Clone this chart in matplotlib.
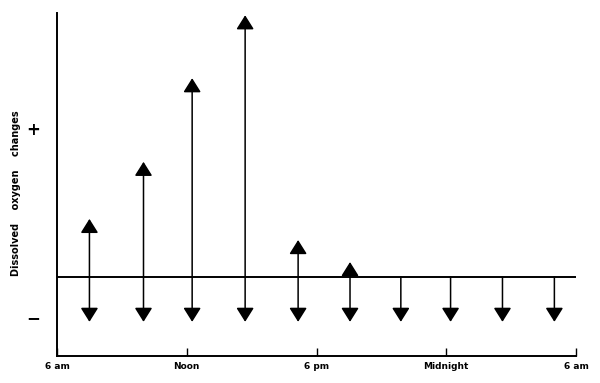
import matplotlib
matplotlib.use("Agg")
import matplotlib.pyplot as plt

# sample times (hours since midnight, 30 = 6 am next day)
times = [7.5, 10.0, 12.25, 14.7, 17.15, 19.55, 21.9, 24.2, 26.6, 29.0]
# oxygen produced (up arrows), relative units
gains = [1.29, 2.56, 4.42, 5.82, 0.82, 0.33, 0, 0, 0, 0]
# oxygen consumed (down arrows)
losses = [-1.0] * 10

tick_hours = [6, 12, 18, 24, 30]
tick_labels = ["6 am", "Noon", "6 pm", "Midnight", "6 am"]

fig = plt.figure(figsize=(6.0, 3.83), dpi=100)
ax = fig.add_axes([0.095, 0.0705, 0.865, 0.8955])

ax.set_xlim(6, 30)
ax.set_ylim(-1.76, 5.87)

ax.axhline(0, color="black", lw=1.4)

head = "-|>,head_length=0.86,head_width=0.54"
for t, g, l in zip(times, gains, losses):
    if g > 0:
        ax.annotate("", xy=(t, g), xytext=(t, 0),
                    arrowprops=dict(arrowstyle=head, mutation_scale=10,
                                    lw=1.1, color="black", shrinkA=0, shrinkB=0))
    ax.annotate("", xy=(t, l), xytext=(t, 0),
                arrowprops=dict(arrowstyle=head, mutation_scale=10,
                                lw=1.1, color="black", shrinkA=0, shrinkB=0))

for side in ("top", "right"):
    ax.spines[side].set_visible(False)
for side in ("left", "bottom"):
    ax.spines[side].set_linewidth(1.4)

ax.set_xticks(tick_hours)
ax.set_xticklabels(tick_labels, fontsize=6.5, fontweight="bold")
ax.tick_params(axis="x", direction="in", length=6, width=1, pad=4)

ax.set_yticks([3.31, -0.87])
ax.set_yticklabels(["+", "\u2212"], fontsize=12, fontweight="bold")
ax.tick_params(axis="y", length=0, pad=12)

ax.set_ylabel("Dissolved    oxygen    changes", fontsize=7,
              fontweight="bold", labelpad=6)
ax.yaxis.set_label_coords(-0.07, 0.475)

fig.savefig("out.png", dpi=100)
